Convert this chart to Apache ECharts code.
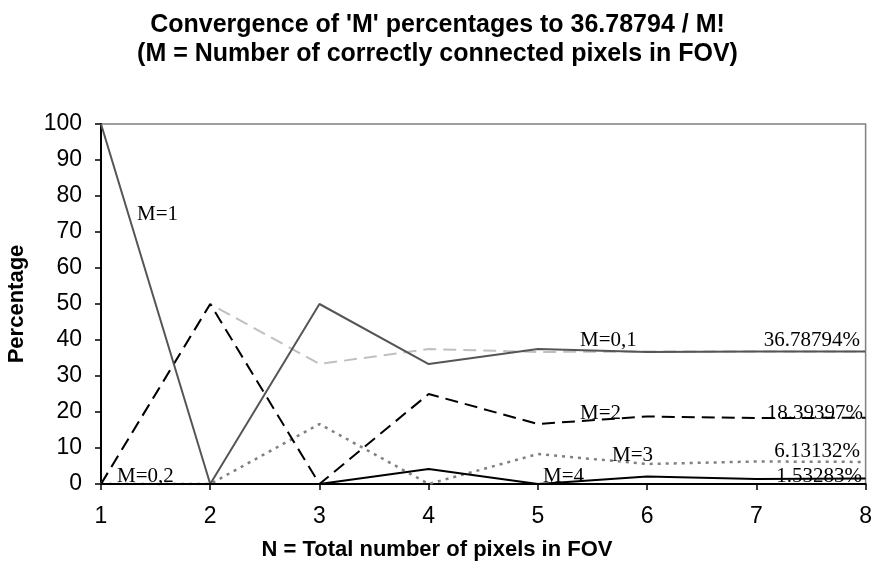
<!DOCTYPE html>
<html>
<head>
<meta charset="utf-8">
<script src="https://cdn.jsdelivr.net/npm/echarts@6/dist/echarts.min.js"></script>
<style>
  html, body { margin: 0; padding: 0; background: #fff; }
  #chart { width: 875px; height: 569px; }
</style>
</head>
<body>
<div id="chart"></div>
<script>
// N = total number of pixels in FOV
var nValues = [1, 2, 3, 4, 5, 6, 7, 8];
// percentages for M correctly connected pixels
var m0 = [0, 50, 33.33, 37.5, 36.67, 36.81, 36.79, 36.79];
var m1 = [100, 0, 50, 33.33, 37.5, 36.67, 36.81, 36.79];
var m2 = [0, 50, 0, 25, 16.67, 18.75, 18.33, 18.40];
var m3 = [0, 0, 16.67, 0, 8.33, 5.56, 6.25, 6.13];
var m4 = [0, 0, 0, 4.17, 0, 2.08, 1.39, 1.53];
var yTicks = [0, 10, 20, 30, 40, 50, 60, 70, 80, 90, 100];

function pairs(vals) {
    return vals.map(function (v, i) { return [nValues[i], v]; });
}

var chartDom = document.getElementById('chart');
var myChart = echarts.init(chartDom);

var sans = 'Arial, "Liberation Sans", sans-serif';
var serif = '21px "Liberation Serif", "Times New Roman", serif';

// annotation text: [text, x, baseline y, align]
var notes = [
    ['M=1', 137, 221, 'left'],
    ['M=0,2', 117, 483, 'left'],
    ['M=0,1', 580, 347, 'left'],
    ['36.78794%', 860, 347, 'right'],
    ['M=2', 580, 420, 'left'],
    ['18.39397%', 863, 420, 'right'],
    ['M=3', 612, 462, 'left'],
    ['6.13132%', 860, 458, 'right'],
    ['M=4', 543, 483, 'left'],
    ['1.53283%', 862, 483, 'right']
];

var graphics = notes.map(function (n) {
    return {
        type: 'text',
        z: 100,
        style: {
            text: n[0], x: n[1], y: n[2] - 7,
            font: serif, fill: '#000',
            align: n[3], verticalAlign: 'middle'
        }
    };
});
graphics.push({
    type: 'text',
    style: {
        text: 'N = Total number of pixels in FOV', x: 437, y: 550,
        font: 'bold 22px ' + sans, fill: '#000',
        align: 'center', verticalAlign: 'middle'
    }
});
graphics.push({
    type: 'text',
    x: 17, y: 304, rotation: Math.PI / 2,
    style: {
        text: 'Percentage', x: 0, y: 0,
        font: 'bold 22px ' + sans, fill: '#000',
        align: 'center', verticalAlign: 'middle'
    }
});

var option = {
    animation: false,
    title: {
        text: "Convergence of 'M' percentages to 36.78794 / M!\n(M = Number of correctly connected pixels in FOV)",
        left: 'center',
        top: 6,
        textStyle: {
            fontFamily: sans,
            fontWeight: 'bold',
            fontSize: 25,
            lineHeight: 29,
            color: '#000'
        }
    },
    grid: {
        left: 101, right: 3, top: 124, bottom: 85,
        show: true, borderColor: '#808080', borderWidth: 1.5
    },
    xAxis: {
        type: 'value',
        min: 1, max: 8, interval: 1,
        axisLine: { lineStyle: { color: '#000', width: 2 } },
        axisTick: { lineStyle: { color: '#000', width: 1.5 }, length: 6 },
        splitLine: { show: false },
        axisLabel: { margin: 21, color: '#000', fontSize: 23, fontFamily: sans }
    },
    yAxis: {
        type: 'value',
        min: yTicks[0], max: yTicks[yTicks.length - 1], interval: 10,
        axisLine: { show: true, lineStyle: { color: '#000', width: 2 } },
        axisTick: { show: true, lineStyle: { color: '#000', width: 1.5 }, length: 6 },
        splitLine: { show: false },
        axisLabel: { margin: 19, color: '#000', fontSize: 23, fontFamily: sans }
    },
    graphic: graphics,
    series: [
        {
            name: 'M=0', type: 'line', data: pairs(m0), symbol: 'none',
            lineStyle: { color: '#c0c0c0', width: 2, type: [13, 7] }
        },
        {
            name: 'M=3', type: 'line', data: pairs(m3), symbol: 'none',
            lineStyle: { color: '#808080', width: 2.5, type: [3, 5] }
        },
        {
            name: 'M=2', type: 'line', data: pairs(m2), symbol: 'none',
            lineStyle: { color: '#000', width: 2, type: [13, 7] }
        },
        {
            name: 'M=1', type: 'line', data: pairs(m1), symbol: 'none',
            lineStyle: { color: '#555', width: 2 }
        },
        {
            name: 'M=4', type: 'line', data: pairs(m4), symbol: 'none',
            lineStyle: { color: '#000', width: 2 }
        }
    ]
};

option && myChart.setOption(option);

window.addEventListener('resize', function () {
    myChart.resize();
});
</script>
</body>
</html>
